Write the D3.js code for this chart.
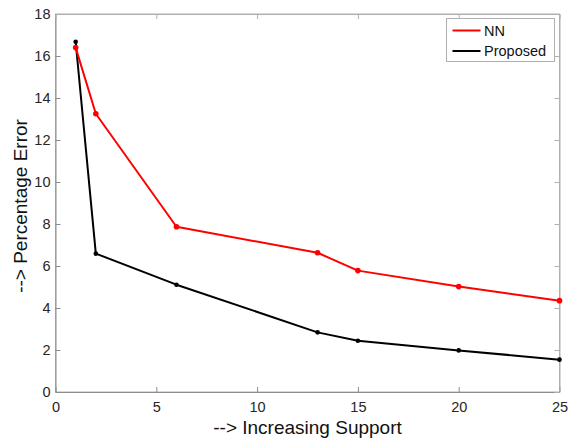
<!DOCTYPE html>
<html lang="en">
<head>
  <meta charset="UTF-8">
  <title>Percentage Error vs Support</title>
  <script src="https://d3js.org/d3.v7.min.js"></script>
  <style>
    body { margin: 0; padding: 0; background: #fff; }
    svg { font-family: "Liberation Sans", Arial, sans-serif; }
    .tick text { fill: #262626; }
    .axis-title { fill: #111; font-size: 19px; }
    .legend text { fill: #111; font-size: 14.5px; }
  </style>
</head>
<body>
  <div id="chart"></div>
  <script>
    const width = 568, height = 441;
    const margin = { top: 14, right: 8.5, bottom: 49, left: 55.5 };

    const support = [1, 2, 6, 13, 15, 20, 25];
    const nnError = [16.4, 13.25, 7.87, 6.63, 5.78, 5.02, 4.35];
    const proposedError = [16.68, 6.59, 5.11, 2.84, 2.44, 1.98, 1.54];
    const xTicks = [0, 5, 10, 15, 20, 25];
    const yTicks = [0, 2, 4, 6, 8, 10, 12, 14, 16, 18];

    const series = [
      { name: "NN", color: "#ff0000", values: nnError, r: 2.8 },
      { name: "Proposed", color: "#000000", values: proposedError, r: 2.3 }
    ];

    const svg = d3.select("#chart").append("svg")
      .attr("width", width)
      .attr("height", height);

    const x = d3.scaleLinear().domain([0, 25]).range([margin.left, width - margin.right]);
    const y = d3.scaleLinear().domain([0, 18]).range([height - margin.bottom, margin.top]);

    const boxColor = "#b0b0b0";
    const axisColor = "#8c8c8c";

    // frame
    svg.append("rect")
      .attr("x", x(0)).attr("y", y(18))
      .attr("width", x(25) - x(0)).attr("height", y(0) - y(18))
      .attr("fill", "none").attr("stroke", boxColor);

    // axes with inward ticks
    const xAxis = svg.append("g")
      .attr("transform", `translate(0,${y(0)})`)
      .call(d3.axisBottom(x).tickValues(xTicks).tickSizeInner(-5).tickSizeOuter(0).tickPadding(10));
    const yAxis = svg.append("g")
      .attr("transform", `translate(${x(0)},0)`)
      .call(d3.axisLeft(y).tickValues(yTicks).tickSizeInner(-5).tickSizeOuter(0).tickPadding(5));
    const xTop = svg.append("g")
      .attr("transform", `translate(0,${y(18)})`)
      .call(d3.axisTop(x).tickValues(xTicks).tickSizeInner(-5).tickSizeOuter(0).tickFormat(""));
    const yRight = svg.append("g")
      .attr("transform", `translate(${x(25)},0)`)
      .call(d3.axisRight(y).tickValues(yTicks).tickSizeInner(-5).tickSizeOuter(0).tickFormat(""));

    [xAxis, yAxis].forEach(g => {
      g.select(".domain").attr("stroke", axisColor);
      g.selectAll(".tick line").attr("stroke", axisColor);
      g.selectAll(".tick text").attr("font-size", 14.5);
    });
    [xTop, yRight].forEach(g => {
      g.select(".domain").attr("stroke", boxColor);
      g.selectAll(".tick line").attr("stroke", boxColor);
    });

    const line = d3.line()
      .x((d, i) => x(support[i]))
      .y(d => y(d));

    // draw black first so red stays on top like the figure
    series.slice().reverse().forEach(s => {
      svg.append("path")
        .datum(s.values)
        .attr("fill", "none")
        .attr("stroke", s.color)
        .attr("stroke-width", 2)
        .attr("stroke-linejoin", "round")
        .attr("d", line);
      svg.append("g").selectAll("circle")
        .data(s.values)
        .join("circle")
        .attr("cx", (d, i) => x(support[i]))
        .attr("cy", d => y(d))
        .attr("r", s.r)
        .attr("fill", s.color);
    });

    // legend
    const legend = svg.append("g").attr("class", "legend");
    legend.append("rect")
      .attr("x", 446.5).attr("y", 18.5)
      .attr("width", 108).attr("height", 43)
      .attr("fill", "#fff").attr("stroke", boxColor);
    series.forEach((s, i) => {
      const ly = 30.5 + i * 20.5;
      legend.append("line")
        .attr("x1", 452.5).attr("x2", 480.5)
        .attr("y1", ly).attr("y2", ly)
        .attr("stroke", s.color).attr("stroke-width", 2);
      legend.append("text")
        .attr("x", 484).attr("y", ly + 5)
        .text(s.name);
    });

    // axis titles
    svg.append("text")
      .attr("class", "axis-title")
      .attr("x", x(12.5)).attr("y", 434)
      .attr("text-anchor", "middle")
      .text("--> Increasing Support");
    svg.append("text")
      .attr("class", "axis-title")
      .attr("transform", `translate(27,206) rotate(-90)`)
      .attr("text-anchor", "middle")
      .text("--> Percentage Error");
  </script>
</body>
</html>
